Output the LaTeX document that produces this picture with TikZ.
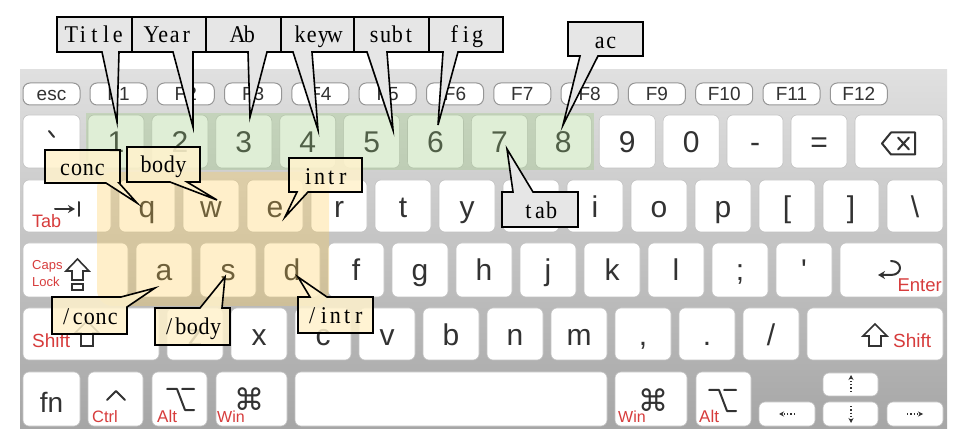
\documentclass[tikz,border=0pt]{standalone}
\usepackage{fontspec}
\newfontfamily\keyfont{Liberation Sans}
\newfontfamily\symfont{DejaVu Sans}
\newfontfamily\calfont{Liberation Serif}[FakeStretch=0.92]
\usetikzlibrary{arrows.meta}
\newcommand\mono[1]{\monoloop#1\relax}
\def\monoloop#1{\ifx\relax#1\else\makebox[11.6pt]{#1}\expandafter\monoloop\fi}
\definecolor{keytxt}{RGB}{50,50,50}
\definecolor{keyred}{RGB}{215,60,60}
\definecolor{keyedge}{RGB}{195,195,195}
\definecolor{fedge}{RGB}{150,150,150}
\definecolor{bgtop}{RGB}{224,224,224}
\definecolor{bgbot}{RGB}{166,166,166}
\definecolor{hlgreen}{RGB}{150,200,120}
\definecolor{hlyellow}{RGB}{255,205,80}
\definecolor{callgray}{RGB}{230,230,230}
\definecolor{callyellow}{RGB}{255,242,204}
\newcommand\kb[6]{%
  \pgfmathsetmacro\kbw{#4-#2}\pgfmathsetmacro\kbh{#5-#3}%
  \pgfmathsetmacro\kbx{(#2+#4)/2}\pgfmathsetmacro\kby{(#3+#5)/2}%
  \node[#6, minimum width=\kbw pt, minimum height=\kbh pt] (#1) at (\kbx,\kby) {};}
\newcommand\kl[2]{\node[klab] (l#1) at ([yshift=-38pt]#1.north) {#2};}
\newcommand\optglyph[2]{\draw[glyph] (#1,#2) -- ++(10,0) -- ++(8,21) -- ++(9,0) (#1+15,#2) -- ++(12,0);}
\begin{document}
\begin{tikzpicture}[x=1pt,y=-1pt,
 keyb/.style={draw=keyedge, line width=0.6pt, fill=white, rounded corners=6pt, inner sep=0pt, outer sep=0pt},
 fkey/.style={keyb, draw=fedge, line width=1pt, rounded corners=7pt},
 klab/.style={font=\keyfont\fontsize{30}{30}\selectfont, text=keytxt, inner sep=0pt, anchor=base},
 flab/.style={font=\keyfont\fontsize{19}{19}\selectfont, text=keytxt, inner sep=0pt, anchor=base},
 rlab/.style={font=\keyfont\fontsize{17}{17}\selectfont, text=keyred, inner sep=0pt, anchor=base west},
 glyph/.style={draw=keytxt, line width=2pt, line cap=round, line join=round},
 oglyph/.style={draw=keytxt, line width=1.6pt, line join=miter},
 darrow/.style={draw=keytxt, line width=1.3pt, dotted, -{Stealth[length=5pt,width=5pt]}},
 gcall/.style={draw=black, line width=1.6pt, fill=callgray},
 ycall/.style={draw=black, line width=1.6pt, fill=callyellow, fill opacity=0.85},
 ctext/.style={font=\calfont\fontsize{24}{24}\selectfont, text=black, inner sep=0pt, anchor=base},
]
\useasboundingbox (0,0) rectangle (953,435);
\fill[white] (0,0) rectangle (953,435);
% keyboard body
\shade[top color=bgtop, bottom color=bgbot] (20,70) rectangle (947,428);
% function row
\kb{kesc}{23}{83}{80}{105}{fkey}
\node[flab] (lesc) at ([yshift=-18pt]kesc.north) {esc};
\foreach \i in {1,...,12} {
  \pgfmathsetmacro\xa{90+67.3*(\i-1)}
  \kb{f\i}{\xa}{83}{\xa+57}{105}{fkey}
  \node[flab] (lf\i) at ([yshift=-18pt]f\i.north) {F\i};
}
% number row
\kb{kgrave}{23}{115}{80}{168}{keyb}
\draw[glyph] (49,131) -- (54,137);
\foreach \t [count=\i from 0] in {1,2,3,4,5,6,7,8,9,0} {
  \pgfmathsetmacro\xa{88+63.9*\i}
  \kb{n\t}{\xa}{115}{\xa+56}{168}{keyb}
  \kl{n\t}{\t}
}
\kb{nminus}{727}{115}{783}{168}{keyb} \kl{nminus}{-}
\kb{nequal}{791}{115}{847}{168}{keyb} \kl{nequal}{=}
\kb{kbksp}{855}{115}{943}{168}{keyb}
\draw[glyph] (882,143.5) -- (891,132.5) -- (915,132.5) -- (915,154.5) -- (891,154.5) -- cycle;
\draw[glyph] (898,137.5) -- (909,149.5) (898,149.5) -- (909,137.5);
% q row
\kb{ktab}{23}{180}{111}{232}{keyb}
\node[rlab, font=\keyfont\fontsize{18}{18}\selectfont] (ltab) at (32,228) {Tab};
\draw[glyph, -{Stealth[length=7pt,width=8pt]}] (55,209) -- (75,209);
\draw[glyph] (79,202) -- (79,216);
\foreach \t [count=\i from 0] in {q,w,e,r,t,y} {
  \pgfmathsetmacro\xa{119+64*\i}
  \kb{k\t}{\xa}{180}{\xa+56}{232}{keyb}
  \kl{k\t}{\t}
}
\kb{ku}{503}{180}{559}{232}{keyb}
\foreach \t [count=\i from 7] in {i,o,p} {
  \pgfmathsetmacro\xa{119+64*\i}
  \kb{k\t}{\xa}{180}{\xa+56}{232}{keyb}
  \kl{k\t}{\t}
}
\kb{klbr}{759}{180}{815}{232}{keyb} \kl{klbr}{[}
\kb{krbr}{823}{180}{879}{232}{keyb} \kl{krbr}{]}
\kb{kbsl}{887}{180}{943}{232}{keyb} \kl{kbsl}{\textbackslash}
% a row
\kb{kcaps}{23}{243}{128}{297}{keyb}
\node[rlab, font=\keyfont\fontsize{13}{13}\selectfont] (lcaps) at (32,270) {Caps};
\node[rlab, font=\keyfont\fontsize{13}{13}\selectfont] (llock) at (32,287) {Lock};
\draw[oglyph] (77.5,259) -- (89,271) -- (83,271) -- (83,280) -- (72,280) -- (72,271) -- (66,271) -- cycle;
\draw[oglyph] (72,284) rectangle (83,290);
\foreach \t [count=\i from 0] in {a,s,d,f,g,h,j,k,l} {
  \pgfmathsetmacro\xa{136+64*\i}
  \kb{k\t}{\xa}{243}{\xa+56}{297}{keyb}
  \kl{k\t}{\t}
}
\kb{ksemi}{712}{243}{768}{297}{keyb} \kl{ksemi}{;}
\kb{kquote}{776}{243}{832}{297}{keyb} \kl{kquote}{\char"27}
\kb{kenter}{840}{243}{943}{297}{keyb}
\node[rlab, anchor=base east, font=\keyfont\fontsize{18.5}{18.5}\selectfont] (lenter) at (942,292) {Enter};
\draw[glyph, -{Stealth[length=7pt,width=8pt]}] (891,261) .. controls (903,261) and (903,275) .. (891,275) -- (878,275);
% z row
\kb{kshl}{23}{308}{159}{360}{keyb}
\node[rlab, font=\keyfont\fontsize{19}{19}\selectfont] (lshl) at (32,348) {Shift};
\draw[oglyph] (87,321) -- (99,333) -- (93,333) -- (93,346) -- (81,346) -- (81,333) -- (75,333) -- cycle;
\foreach \t [count=\i from 0] in {z,x,c,v,b,n,m} {
  \pgfmathsetmacro\xa{167+64*\i}
  \kb{k\t}{\xa}{308}{\xa+56}{360}{keyb}
  \kl{k\t}{\t}
}
\kb{kcomma}{615}{308}{671}{360}{keyb} \kl{kcomma}{,}
\kb{kdot}{679}{308}{735}{360}{keyb} \kl{kdot}{.}
\kb{kslash}{743}{308}{799}{360}{keyb} \kl{kslash}{/}
\kb{kshr}{807}{308}{943}{360}{keyb}
\draw[oglyph] (875,324) -- (887,336) -- (881,336) -- (881,346) -- (869,346) -- (869,336) -- (863,336) -- cycle;
\node[rlab, font=\keyfont\fontsize{19}{19}\selectfont] (lshr) at (893,348) {Shift};
% bottom row
\kb{kfn}{23}{372}{80}{426}{keyb}
\node[klab, font=\keyfont\fontsize{28}{28}\selectfont] (lfn) at (51.5,412) {fn};
\kb{kctrl}{88}{372}{143}{426}{keyb}
\draw[glyph] (107,400) -- (116,391) -- (125,400);
\node[rlab, font=\keyfont\fontsize{16.5}{16.5}\selectfont] (lctrl) at (92,422) {Ctrl};
\kb{kaltl}{152}{372}{207}{426}{keyb}
\optglyph{167}{389}
\node[rlab] (laltl) at (157,422) {Alt};
\kb{kwinl}{216}{372}{287}{426}{keyb}
\node[font=\symfont\fontsize{30}{30}\selectfont, text=keytxt, inner sep=0pt] (lcmdl) at (249,399) {⌘};
\node[rlab, font=\keyfont\fontsize{16}{16}\selectfont] (lwinl) at (217,422) {Win};
\kb{kspace}{295}{372}{607}{426}{keyb}
\kb{kwinr}{615}{372}{687}{426}{keyb}
\node[font=\symfont\fontsize{30}{30}\selectfont, text=keytxt, inner sep=0pt] (lcmdr) at (653,400) {⌘};
\node[rlab, font=\keyfont\fontsize{16}{16}\selectfont] (lwinr) at (618,422) {Win};
\kb{kaltr}{696}{372}{751}{426}{keyb}
\optglyph{709}{390}
\node[rlab] (laltr) at (699,422) {Alt};
\kb{kleft}{759}{402}{815}{426}{keyb}
\kb{kup}{823}{373}{878}{396}{keyb}
\kb{kdown}{823}{402}{878}{426}{keyb}
\kb{kright}{887}{402}{943}{426}{keyb}
\draw[darrow] (795,414) -- (779,414);
\draw[darrow] (851,392) -- (851,375);
\draw[darrow] (851,406) -- (851,423);
\draw[darrow] (907,414) -- (923,414);
% highlight overlays
\fill[hlgreen, opacity=0.3] (86,113) rectangle (594,170);
\fill[hlyellow, opacity=0.3, rounded corners=16pt] (97,172) rectangle (329,306);
% gray callouts
\coordinate (tTitle) at (117,122);
\coordinate (tYear) at (193,127);
\coordinate (tAb) at (250,117);
\coordinate (tkeyw) at (318,130);
\coordinate (tsubt) at (393,130);
\coordinate (tfig) at (438,125);
\coordinate (tac) at (563,125);
\coordinate (ttab) at (507,149);
\draw[gcall] (57,17) -- (132,17) -- (132,52) -- (119,52) -- (tTitle) -- (102,52) -- (57,52) -- cycle;
\node[ctext] (Title) at (94.5,43) {\mono{Title}};
\draw[gcall] (132,17) -- (206,17) -- (206,52) -- (193,52) -- (tYear) -- (173,52) -- (132,52) -- cycle;
\node[ctext] (Year) at (169,43) {\mono{Year}};
\draw[gcall] (206,17) -- (281,17) -- (281,52) -- (267,52) -- (tAb) -- (248,52) -- (206,52) -- cycle;
\node[ctext] (Ab) at (243.5,43) {\mono{Ab}};
\draw[gcall] (281,17) -- (354,17) -- (354,52) -- (312,52) -- (tkeyw) -- (293,52) -- (281,52) -- cycle;
\node[ctext] (keyw) at (317.5,43) {\mono{keyw}};
\draw[gcall] (354,17) -- (429,17) -- (429,52) -- (387,52) -- (tsubt) -- (367,52) -- (354,52) -- cycle;
\node[ctext] (subt) at (391.5,43) {\mono{subt}};
\draw[gcall] (429,17) -- (503,17) -- (503,52) -- (458,52) -- (tfig) -- (443,52) -- (429,52) -- cycle;
\node[ctext] (fig) at (466,43) {\mono{fig}};
\draw[gcall] (568,22) -- (643,22) -- (643,56) -- (598,56) -- (tac) -- (580,56) -- (568,56) -- cycle;
\node[ctext] (ac) at (605.5,49) {\mono{ac}};
\draw[gcall] (502,192) -- (513,192) -- (ttab) -- (533,192) -- (578,192) -- (578,227) -- (502,227) -- cycle;
\node[ctext] (tab) at (540,219) {\mono{tab}};
% yellow callouts
\coordinate (tconc) at (137,203);
\coordinate (tbody) at (217,200);
\coordinate (tintr) at (285,217);
\coordinate (tsconc) at (155,288);
\coordinate (tsbody) at (225,277);
\coordinate (tsintr) at (298,277);
\draw[ycall] (45,150) -- (120,150) -- (120,183) -- (119,183) -- (tconc) -- (106,183) -- (45,183) -- cycle;
\node[ctext] (conc) at (82.5,176) {\mono{conc}};
\draw[ycall] (127,147) -- (200,147) -- (200,182) -- (187,182) -- (tbody) -- (170,182) -- (127,182) -- cycle;
\node[ctext] (body) at (163.5,173) {\mono{body}};
\draw[ycall] (289,158) -- (362,158) -- (362,192) -- (308,192) -- (tintr) -- (297,192) -- (289,192) -- cycle;
\node[ctext] (intr) at (325.5,185) {\mono{intr}};
\draw[ycall] (52,297) -- (121,297) -- (tsconc) -- (127,307) -- (127,334) -- (52,334) -- cycle;
\node[ctext] (sconc) at (89.5,325) {\mono{/conc}};
\draw[ycall] (155,308) -- (200,308) -- (tsbody) -- (222,308) -- (230,308) -- (230,345) -- (155,345) -- cycle;
\node[ctext] (sbody) at (192.5,335) {\mono{/body}};
\draw[ycall] (298,297) -- (310,297) -- (tsintr) -- (327,297) -- (373,297) -- (373,333) -- (298,333) -- cycle;
\node[ctext] (sintr) at (335.5,324) {\mono{/intr}};
\end{tikzpicture}
\end{document}
